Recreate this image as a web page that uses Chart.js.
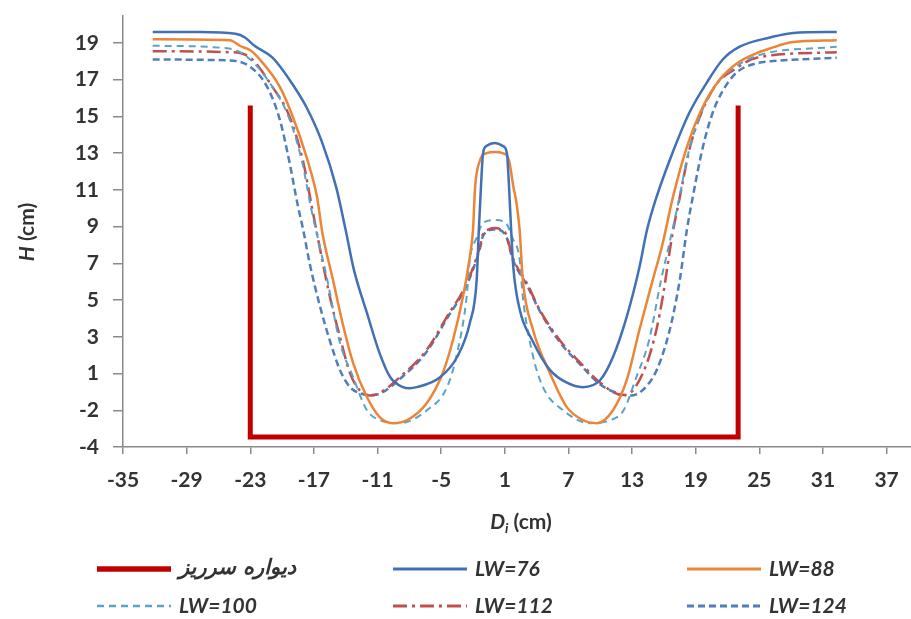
<!DOCTYPE html>
<html>
<head>
<meta charset="utf-8">
<script src="https://cdn.jsdelivr.net/npm/chart.js@4.4.0/dist/chart.umd.min.js"></script>
<style>
    html, body { margin: 0; padding: 0; background: #fff; }
    #wrap { width: 911px; height: 619px; }
</style>
</head>
<body>
<div id="wrap"><canvas id="chart" width="911" height="619"></canvas></div>
<script>
// Axes
const xTickValues = [-35, -29, -23, -17, -11, -5, 1, 7, 13, 19, 25, 31, 37];
const yTickValues = [-3, -1, 1, 3, 5, 7, 9, 11, 13, 15, 17, 19];
const yTickLabels = ['-4', '-2', '1', '3', '5', '7', '9', '11', '13', '15', '17', '19'];

// Spillway wall
const wallX = [-23, -23, 23, 23];
const wallY = [15.6, -2.45, -2.45, 15.6];

// LW=76
const lw76X = [-32.2, -27.7, -24.4, -23.5, -23.0, -22.6, -20.9, -19.3, -17.7, -16.2, -14.9, -14.0, -13.25, -12.0, -10.8, -9.8, -8.6, -8.0, -7.3, -5.1, -3.5, -2.3, -1.65, -1.45, -1.25, -1.05, -0.7, 0.05, 0.8, 1.2, 1.4, 1.6, 1.8, 2.4, 3.6, 5.25, 6.85, 8.35, 10.0, 11.2, 12.5, 13.7, 14.4, 15.3, 16.8, 18.4, 20.0, 21.55, 23.15, 26.0, 28.2, 32.3];
const lw76Y = [19.6, 19.6, 19.5, 19.3, 19.05, 18.85, 18.2, 17.0, 15.5, 13.55, 11.15, 8.8, 6.7, 4.3, 2.1, 0.8, 0.26, 0.2, 0.26, 0.8, 1.9, 3.75, 6.1, 8.8, 11.15, 13.0, 13.4, 13.55, 13.4, 13.0, 11.15, 8.8, 6.8, 4.5, 2.8, 1.2, 0.5, 0.26, 0.65, 1.9, 4.1, 6.8, 8.8, 10.6, 13.0, 15.2, 16.8, 18.1, 18.8, 19.3, 19.55, 19.6];

// LW=88
const lw88X = [-32.2, -24.9, -24.0, -23.0, -22.1, -20.2, -19.0, -17.7, -16.7, -16.2, -15.2, -14.3, -13.3, -12.0, -10.8, -9.55, -8.2, -6.35, -4.85, -3.9, -2.95, -2.3, -2.0, -1.8, -1.35, -0.7, 0.05, 0.8, 1.4, 1.8, 2.1, 2.4, 2.7, 3.65, 5.25, 6.85, 8.35, 9.67, 11.2, 12.5, 13.7, 14.95, 15.85, 16.85, 18.15, 19.65, 21.25, 22.9, 24.75, 26.0, 28.15, 32.3];
const lw88Y = [19.2, 19.15, 18.85, 18.6, 18.1, 16.6, 15.0, 12.8, 10.6, 8.65, 6.1, 3.75, 1.57, -0.28, -1.37, -1.7, -1.53, -0.6, 1.03, 2.8, 5.17, 7.35, 8.8, 11.15, 12.6, 13.0, 13.06, 13.0, 12.6, 11.2, 10.3, 8.8, 6.1, 3.4, 1.03, -0.83, -1.53, -1.7, -1.0, 0.65, 3.4, 6.1, 8.0, 10.6, 13.3, 15.5, 17.0, 17.9, 18.45, 18.7, 19.05, 19.15];

// LW=100
const lw100X = [-32.2, -25.0, -23.0, -20.9, -19.4, -18.1, -17.3, -16.6, -15.7, -14.6, -13.3, -12.0, -10.8, -8.9, -6.35, -4.45, -3.5, -2.6, -2.3, -1.65, -1.05, 0.05, 1.1, 1.7, 2.4, 2.7, 3.6, 4.6, 6.5, 9.0, 11.0, 12.2, 13.4, 14.6, 15.7, 16.6, 17.4, 18.3, 19.6, 21.0, 22.5, 24.75, 32.3];
const lw100Y = [18.85, 18.7, 18.1, 16.6, 15.0, 12.5, 10.1, 8.3, 6.0, 2.8, 0.8, -1.0, -1.53, -1.7, -1.0, 0.26, 2.1, 5.17, 7.2, 8.4, 9.2, 9.36, 9.2, 8.4, 7.2, 5.17, 2.1, 0.26, -1.0, -1.7, -1.53, -1.0, 0.8, 2.8, 6.0, 8.3, 10.4, 13.0, 15.3, 16.8, 17.6, 18.3, 18.8];

// LW=112
const lw112X = [-32.2, -25.0, -23.0, -20.9, -19.3, -18.0, -17.2, -16.6, -15.5, -14.55, -13.6, -12.7, -11.7, -10.8, -8.9, -6.35, -4.45, -2.6, -1.35, -1.05, -0.5, 0.05, 0.6, 1.1, 1.76, 3.1, 4.3, 6.2, 8.1, 10.0, 12.1, 13.1, 14.4, 15.3, 15.9, 16.75, 17.5, 18.45, 19.65, 21.0, 22.5, 24.75, 32.3];
const lw112Y = [18.55, 18.5, 18.2, 16.6, 15.0, 12.5, 10.1, 8.3, 5.2, 3.0, 1.03, 0.1, -0.2, -0.06, 0.8, 2.3, 4.1, 5.9, 7.9, 8.6, 8.85, 8.92, 8.85, 8.6, 7.3, 5.9, 4.46, 2.8, 1.6, 0.5, -0.17, 0.1, 1.57, 3.4, 5.2, 8.4, 10.6, 13.3, 15.35, 16.8, 17.5, 18.2, 18.5];

// LW=124
const lw124X = [-32.2, -25.0, -23.0, -21.4, -20.2, -19.3, -18.5, -18.0, -17.4, -16.4, -15.5, -14.55, -13.6, -12.7, -11.7, -10.8, -8.9, -6.35, -4.45, -2.6, -1.35, -1.05, 0.05, 1.1, 1.76, 3.1, 4.3, 6.2, 8.1, 10.0, 12.1, 12.8, 14.0, 15.33, 16.56, 17.5, 18.16, 18.72, 19.66, 20.6, 21.55, 22.87, 24.76, 26.0, 32.3];
const lw124Y = [18.1, 18.05, 17.7, 16.6, 14.8, 12.5, 10.1, 8.8, 7.0, 4.6, 2.8, 1.2, 0.26, -0.06, -0.17, -0.1, 0.7, 2.2, 4.0, 5.8, 7.8, 8.5, 8.85, 8.5, 7.2, 5.8, 4.4, 2.7, 1.5, 0.4, -0.15, -0.2, 0.1, 1.2, 3.4, 6.1, 8.8, 10.6, 13.3, 15.2, 16.4, 17.4, 17.9, 18.0, 18.2];

const toPoints = (xs, ys) => xs.map((x, i) => ({ x: x, y: ys[i] }));

const axisColor = '#8a8a8a';
const textColor = '#333333';
const fontName = 'Lato, "Open Sans", sans-serif';

function curve(label, xs, ys, color, width, dash) {
    return {
        label: label,
        data: toPoints(xs, ys),
        borderColor: color,
        backgroundColor: color,
        borderWidth: width,
        borderDash: dash,
        pointRadius: 0,
        cubicInterpolationMode: 'monotone',
        fill: false
    };
}

// draws the axis titles (mixed italic / subscript)
const axisTitles = {
    id: 'axisTitles',
    afterDraw(chart) {
        const c = chart.ctx;
        c.save();
        c.fillStyle = textColor;
        c.textBaseline = 'middle';
        c.textAlign = 'left';

        // H (cm), rotated
        const fIt = 'italic bold 21px ' + fontName;
        const fUp = 'bold 21px ' + fontName;
        c.font = fIt; const wH = c.measureText('H').width;
        c.font = fUp; const wR = c.measureText(' (cm)').width;
        c.translate(27, 232);
        c.rotate(-Math.PI / 2);
        let x = -(wH + wR) / 2;
        c.font = fIt; c.fillText('H', x, 0);
        c.font = fUp; c.fillText(' (cm)', x + wH, 0);
        c.setTransform(1, 0, 0, 1, 0, 0);

        // D_i (cm)
        const fSub = 'italic bold 14px ' + fontName;
        c.font = fIt; const wD = c.measureText('D').width;
        c.font = fSub; const wi = c.measureText('i').width;
        c.font = fUp; const wC = c.measureText(' (cm)').width;
        x = 521 - (wD + wi + wC) / 2;
        const y = 522;
        c.font = fIt; c.fillText('D', x, y);
        c.font = fSub; c.fillText('i', x + wD, y + 6);
        c.font = fUp; c.fillText(' (cm)', x + wD + wi, y);
        c.restore();
    }
};

// custom 3-column legend under the chart
const gridLegend = {
    id: 'gridLegend',
    afterDraw(chart) {
        const c = chart.ctx;
        const cols = [97, 393, 687];
        const rows = [569, 606];
        c.save();
        chart.data.datasets.forEach((ds, i) => {
            const x0 = cols[i % 3];
            const y0 = rows[Math.floor(i / 3)];
            c.beginPath();
            c.strokeStyle = ds.borderColor;
            c.lineWidth = i === 0 ? 5.5 : ds.borderWidth + 0.5;
            c.setLineDash(ds.borderDash || []);
            c.lineCap = 'butt';
            c.moveTo(x0, y0);
            c.lineTo(x0 + 74, y0);
            c.stroke();
            c.setLineDash([]);
            c.fillStyle = textColor;
            c.font = i === 0 ? 'italic bold 21px "DejaVu Sans", ' + fontName : 'italic bold 21px ' + fontName;
            c.textBaseline = 'middle';
            c.textAlign = 'left';
            c.fillText(ds.label, x0 + 82, y0);
        });
        c.restore();
    }
};

const ctx = document.getElementById('chart').getContext('2d');
new Chart(ctx, {
    type: 'line',
    data: {
        datasets: [
            {
                label: 'دیواره سرریز',
                data: toPoints(wallX, wallY),
                borderColor: '#C00000',
                backgroundColor: '#C00000',
                borderWidth: 5,
                borderDash: [],
                pointRadius: 0,
                tension: 0,
                borderJoinStyle: 'miter',
                fill: false
            },
            curve('LW=76', lw76X, lw76Y, '#4170B5', 2.5, []),
            curve('LW=88', lw88X, lw88Y, '#EB8538', 2.5, []),
            curve('LW=100', lw100X, lw100Y, '#5AA2C9', 2, [7, 5]),
            curve('LW=112', lw112X, lw112Y, '#C0504D', 2.5, [14, 5, 3, 5]),
            curve('LW=124', lw124X, lw124Y, '#4F7EBB', 2.5, [7, 4])
        ]
    },
    options: {
        responsive: false,
        animation: false,
        layout: { padding: { top: 16, left: 0, right: 0, bottom: 0 } },
        plugins: {
            legend: { display: false },
            tooltip: { enabled: false }
        },
        scales: {
            x: {
                type: 'linear',
                min: -35,
                max: 39.3,
                afterBuildTicks: s => { s.ticks = xTickValues.map(v => ({ value: v })); },
                afterFit: s => { s.height = 619 - 447; s.paddingLeft = 0; s.paddingRight = 0; },
                border: { display: true, color: axisColor, width: 1.5 },
                grid: { drawOnChartArea: false, drawTicks: true, tickLength: 7, tickColor: axisColor, lineWidth: 1.5 },
                ticks: {
                    color: textColor,
                    font: { family: fontName, size: 21, weight: 'bold' },
                    padding: 14,
                    maxRotation: 0,
                    autoSkip: false
                }
            },
            y: {
                type: 'linear',
                min: -3,
                max: 20.47,
                afterBuildTicks: s => { s.ticks = yTickValues.map(v => ({ value: v })); },
                afterFit: s => { s.width = 123; s.paddingTop = 0; s.paddingBottom = 0; },
                border: { display: true, color: axisColor, width: 1.5 },
                grid: { drawOnChartArea: false, drawTicks: true, tickLength: 10, tickColor: axisColor, lineWidth: 1.5 },
                ticks: {
                    color: textColor,
                    font: { family: fontName, size: 21, weight: 'bold' },
                    padding: 14,
                    autoSkip: false,
                    callback: (v, i) => yTickLabels[i]
                }
            }
        }
    },
    plugins: [axisTitles, gridLegend]
});
</script>
</body>
</html>
